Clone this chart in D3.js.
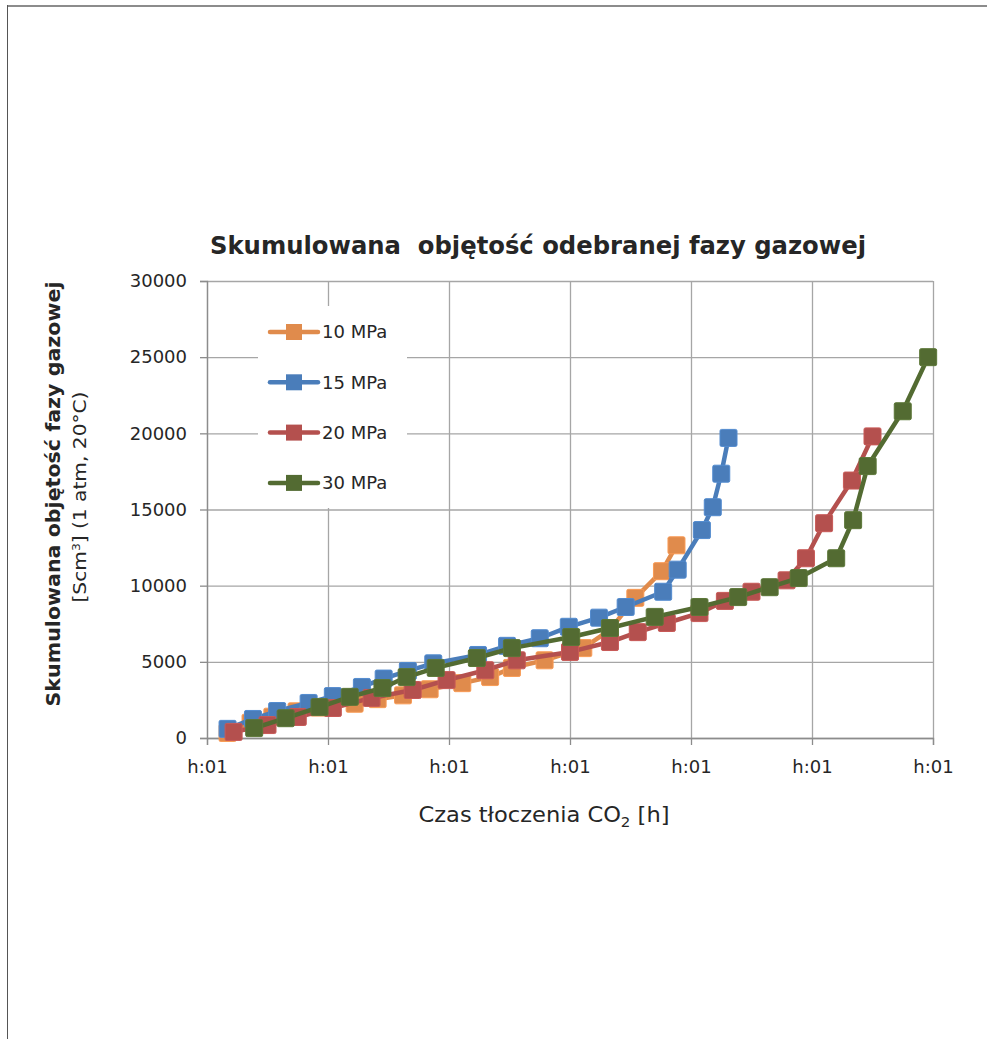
<!DOCTYPE html>
<html>
<head>
<meta charset="utf-8">
<script src="https://cdn.jsdelivr.net/npm/d3@7"></script>
<style>
  html, body { margin: 0; padding: 0; background: #fff; }
  svg { display: block; }
  text { font-family: "DejaVu Sans", "Noto Sans", sans-serif; fill: #262626; }
</style>
</head>
<body>
<svg id="chart" width="987" height="1039"></svg>
<script>
// ---------------- data ----------------
const seriesNames = ["10 MPa", "15 MPa", "20 MPa", "30 MPa"];
const seriesColors = ["#E08B4C", "#4A7DBA", "#B4504E", "#536B32"];

// x: injection time (in grid units), y: cumulative gas volume [Scm3]
const x10 = [0.17, 0.36, 0.54, 0.74, 0.92, 1.22, 1.41, 1.62, 1.84, 2.11, 2.34, 2.52, 2.79, 3.11, 3.33, 3.54, 3.76, 3.88];
const y10 = [330, 1000, 1400, 1750, 2000, 2250, 2550, 2800, 3200, 3600, 4000, 4600, 5100, 5900, 7100, 9200, 10950, 12650];

const x15 = [0.17, 0.38, 0.58, 0.84, 1.04, 1.28, 1.46, 1.66, 1.87, 2.24, 2.48, 2.75, 2.99, 3.24, 3.46, 3.77, 3.89, 4.09, 4.18, 4.25, 4.31];
const y15 = [600, 1250, 1770, 2300, 2750, 3350, 3900, 4400, 4900, 5450, 6050, 6550, 7300, 7900, 8600, 9600, 11050, 13650, 15150, 17350, 19700];

const x20 = [0.22, 0.50, 0.75, 1.04, 1.36, 1.70, 1.98, 2.30, 2.56, 3.00, 3.33, 3.56, 3.80, 4.07, 4.28, 4.50, 4.79, 4.95, 5.10, 5.33, 5.50];
const y20 = [400, 850, 1380, 1970, 2630, 3150, 3800, 4450, 5100, 5650, 6300, 6950, 7550, 8200, 9000, 9600, 10350, 11800, 14100, 16900, 19800];

const x30 = [0.39, 0.65, 0.93, 1.18, 1.45, 1.65, 1.89, 2.23, 2.52, 3.01, 3.33, 3.70, 4.07, 4.39, 4.65, 4.89, 5.20, 5.34, 5.46, 5.75, 5.96];
const y30 = [650, 1300, 2030, 2700, 3280, 4000, 4600, 5250, 5900, 6630, 7220, 7950, 8600, 9250, 9900, 10500, 11800, 14300, 17850, 21450, 25000];

const yTicks = [0, 5000, 10000, 15000, 20000, 25000, 30000];
const xTicks = [0, 1, 2, 3, 4, 5, 6];
const xTickLabels = ["h:01", "h:01", "h:01", "h:01", "h:01", "h:01", "h:01"];

const chartTitle = "Skumulowana  objętość odebranej fazy gazowej";
const yTitle1 = "Skumulowana objętość fazy gazowej";
const xTitleMain = "Czas tłoczenia CO";

const seriesX = [x10, x15, x20, x30];
const seriesY = [y10, y15, y20, y30];

// ---------------- layout ----------------
const svg = d3.select("#chart");
const pL = 207, pR = 933, pT = 281, pB = 738;

const x = d3.scaleLinear().domain([0, 6]).range([pL, pR]);
const y = d3.scaleLinear().domain([0, 30000]).range([pB, pT]);

// page frame (top + left edge)
svg.append("line").attr("x1", 7).attr("x2", 987).attr("y1", 6).attr("y2", 6)
  .attr("stroke", "#8c8c8c").attr("stroke-width", 2);
svg.append("line").attr("x1", 7.5).attr("x2", 7.5).attr("y1", 5).attr("y2", 1039)
  .attr("stroke", "#555").attr("stroke-width", 1);

// gridlines
const grid = svg.append("g").attr("class", "grid");
grid.append("g").attr("transform", `translate(0,${pB})`)
  .call(d3.axisBottom(x).tickValues(xTicks).tickSize(-(pB - pT)).tickFormat(""))
  .call(g => g.select(".domain").remove())
  .call(g => g.selectAll("line").attr("stroke", "#a6a6a6").attr("stroke-width", 1.3));
grid.append("g").attr("transform", `translate(${pL},0)`)
  .call(d3.axisLeft(y).tickValues(yTicks).tickSize(-(pR - pL)).tickFormat(""))
  .call(g => g.select(".domain").remove())
  .call(g => g.selectAll("line").attr("stroke", "#a6a6a6").attr("stroke-width", 1.3));

// axes
const yAxis = svg.append("g").attr("transform", `translate(${pL},0)`)
  .call(d3.axisLeft(y).tickValues(yTicks).tickSize(7).tickPadding(13).tickFormat(d3.format("d")));
yAxis.select(".domain").attr("stroke", "#8c8c8c").attr("stroke-width", 1.3);
yAxis.selectAll(".tick line").attr("stroke", "#8c8c8c").attr("stroke-width", 1.3);
yAxis.selectAll(".tick text").style("font-size", "18px").style("font-family", "DejaVu Sans").attr("fill", "#262626");

const xAxis = svg.append("g").attr("transform", `translate(0,${pB})`)
  .call(d3.axisBottom(x).tickValues(xTicks).tickSize(7).tickPadding(15).tickFormat((d, i) => xTickLabels[i]));
xAxis.select(".domain").attr("stroke", "#8c8c8c").attr("stroke-width", 1.3);
xAxis.selectAll(".tick line").attr("stroke", "#8c8c8c").attr("stroke-width", 1.3);
xAxis.selectAll(".tick text").style("font-size", "18px").style("font-family", "DejaVu Sans").attr("fill", "#262626");

// legend box (white, drawn over gridlines)
const legend = svg.append("g");
legend.append("rect").attr("x", 258).attr("y", 306).attr("width", 149).attr("height", 202).attr("fill", "#fff");
const legendRowY = d => 332 + d * 50.3;

// series
const line = d3.line().x(d => x(d[0])).y(d => y(d[1]));
seriesNames.forEach((name, i) => {
  const pts = seriesX[i].map((xv, j) => [xv, seriesY[i][j]]);
  const g = svg.append("g");
  g.append("path").datum(pts).attr("d", line)
    .attr("fill", "none").attr("stroke", seriesColors[i]).attr("stroke-width", 4.5)
    .attr("stroke-linejoin", "round").attr("stroke-linecap", "round");
  g.selectAll("rect").data(pts).join("rect")
    .attr("x", d => x(d[0]) - 8.5).attr("y", d => y(d[1]) - 8.5)
    .attr("width", 17).attr("height", 17).attr("rx", 1.5)
    .attr("fill", seriesColors[i]).attr("stroke", d3.color(seriesColors[i]).brighter(0.3)).attr("stroke-width", 1);

  // legend entry
  const ly = legendRowY(i);
  legend.append("line").attr("x1", 270).attr("x2", 318).attr("y1", ly).attr("y2", ly)
    .attr("stroke", seriesColors[i]).attr("stroke-width", 4.5).attr("stroke-linecap", "round");
  legend.append("rect").attr("x", 294 - 8).attr("y", ly - 8).attr("width", 16).attr("height", 16)
    .attr("fill", seriesColors[i]);
  legend.append("text").attr("x", 322).attr("y", ly).attr("dy", "0.36em")
    .style("font-size", "18px").text(name);
});

// chart title
svg.append("text").attr("x", 538).attr("y", 254).attr("text-anchor", "middle")
  .style("font-size", "24px").style("font-weight", "bold").style("white-space", "pre")
  .attr("textLength", 656).attr("lengthAdjust", "spacingAndGlyphs")
  .text(chartTitle);

// x axis title with subscript
const xt = svg.append("text").attr("x", 544).attr("y", 822).attr("text-anchor", "middle")
  .style("font-size", "21px").attr("textLength", 251).attr("lengthAdjust", "spacingAndGlyphs");
xt.append("tspan").text(xTitleMain);
xt.append("tspan").attr("dy", 5).style("font-size", "14px").text("2");
xt.append("tspan").attr("dy", -5).text(" [h]");

// y axis title (two lines, rotated)
svg.append("text").attr("transform", "translate(60,494) rotate(-90)").attr("text-anchor", "middle")
  .style("font-size", "20px").style("font-weight", "bold")
  .attr("textLength", 425).attr("lengthAdjust", "spacingAndGlyphs")
  .text(yTitle1);
const yt2 = svg.append("text").attr("transform", "translate(86,497) rotate(-90)").attr("text-anchor", "middle")
  .style("font-size", "18px").attr("textLength", 211).attr("lengthAdjust", "spacingAndGlyphs");
yt2.append("tspan").text("[Scm");
yt2.append("tspan").attr("dy", -6).style("font-size", "11px").text("3");
yt2.append("tspan").attr("dy", 6).text("] (1 atm, 20°C)");
</script>
</body>
</html>
